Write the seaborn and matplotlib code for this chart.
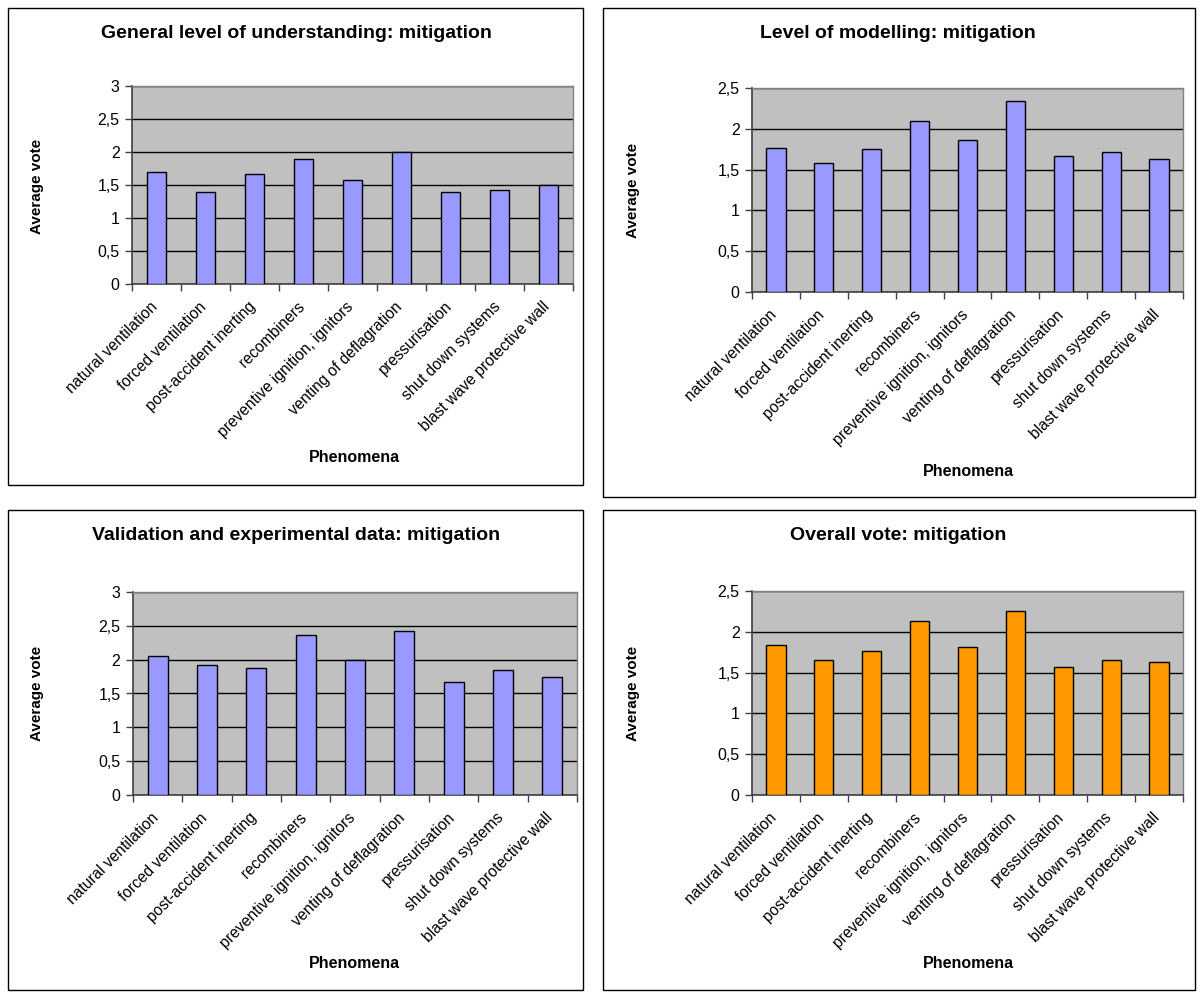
import numpy as np
import pandas as pd
import seaborn as sns
import matplotlib.pyplot as plt
import matplotlib.transforms as mtransforms
from matplotlib.patches import Rectangle
from matplotlib.ticker import FuncFormatter, MultipleLocator

# categories shared by all four charts
phenomena = ['natural ventilation', 'forced ventilation', 'post-accident inerting',
             'recombiners', 'preventive ignition, ignitors', 'venting of deflagration',
             'pressurisation', 'shut down systems', 'blast wave protective wall']

# average votes
understanding = [1.70, 1.40, 1.66, 1.90, 1.57, 2.00, 1.40, 1.42, 1.50]
modelling = [1.76, 1.58, 1.75, 2.10, 1.86, 2.34, 1.67, 1.71, 1.63]
validation = [2.06, 1.92, 1.87, 2.37, 2.00, 2.42, 1.67, 1.85, 1.74]
overall = [1.84, 1.65, 1.77, 2.13, 1.81, 2.25, 1.57, 1.66, 1.63]

titles = ['General level of understanding: mitigation', 'Level of modelling: mitigation',
          'Validation and experimental data: mitigation', 'Overall vote: mitigation']
ymaxes = [3, 2.5, 3, 2.5]
colors = ['#9999FF', '#9999FF', '#9999FF', '#FF9900']

sns.set_theme(style='white')
plt.rcParams['font.family'] = ['Liberation Sans', 'DejaVu Sans']
plt.rcParams['text.color'] = 'black'
plt.rcParams['xtick.color'] = 'black'
plt.rcParams['ytick.color'] = 'black'

W, H = 1203, 997
fig = plt.figure(figsize=(W / 100, H / 100), dpi=100)
fig.patch.set_facecolor('white')

def fx(x):
    return x / W

def fy(y):
    return 1 - y / H

# pixel layout: (left, top, right, bottom) for plot areas and frames
plot_boxes = [(132, 86, 573, 284), (752, 88, 1183, 292), (133, 592, 577, 795), (752, 591, 1183, 795)]
frames = [(8, 8, 583, 485), (603, 8, 1195, 497), (8, 510, 583, 990), (603, 510, 1195, 990)]
title_pos = [(296, 33), (898, 33), (296, 535), (898, 535)]
ylab_pos = [(37, 186), (633, 190), (37, 693), (633, 693)]
xlab_pos = [(354, 458), (968, 471), (354, 963), (968, 963)]

series = [understanding, modelling, validation, overall]
comma = FuncFormatter(lambda v, p: ('%g' % v).replace('.', ','))
label_shift = mtransforms.ScaledTranslation(-7 / 100, 0, fig.dpi_scale_trans)

for i in range(4):
    l, t, r, b = plot_boxes[i]
    ax = fig.add_axes([fx(l), fy(b), fx(r - l), (b - t) / H])
    df = pd.DataFrame({'Phenomena': phenomena, 'Average vote': series[i]})
    sns.barplot(data=df, x='Phenomena', y='Average vote', color=colors[i],
                saturation=1, width=0.4, edgecolor='black', linewidth=1, ax=ax, zorder=3)
    ax.set_facecolor('#C0C0C0')
    ax.set_xlim(-0.5, len(phenomena) - 0.5)
    ax.set_ylim(0, ymaxes[i])
    ax.yaxis.set_major_locator(MultipleLocator(0.5))
    ax.yaxis.set_major_formatter(comma)
    ax.yaxis.grid(True, color='black', linewidth=1, zorder=1)
    ax.xaxis.grid(False)
    ax.set_axisbelow(True)
    ax.set_xlabel('')
    ax.set_ylabel('')
    ax.set_xticks(np.arange(-0.5, len(phenomena)), minor=True)
    ax.tick_params(axis='x', which='major', length=0, pad=11)
    ax.tick_params(axis='x', which='minor', length=5, width=1, color='#404040', direction='out', bottom=True)
    ax.tick_params(axis='y', length=5, width=1, color='#404040', direction='out', left=True,
                   labelsize=11.5, pad=4, labelcolor='black')
    ax.set_xticks(range(len(phenomena)))
    ax.set_xticklabels(phenomena, rotation=45, ha='right', va='top', rotation_mode='anchor',
                       fontsize=11.2, color='black')
    for lab in ax.get_xticklabels():
        lab.set_transform(lab.get_transform() + label_shift)
    for s in ['left', 'bottom']:
        ax.spines[s].set_color('#404040')
        ax.spines[s].set_linewidth(1.2)
    for s in ['top', 'right']:
        ax.spines[s].set_color('#808080')
        ax.spines[s].set_linewidth(1)

    fl, ft, fr, fb = frames[i]
    fig.patches.append(Rectangle((fx(fl), fy(fb)), fx(fr - fl), (fb - ft) / H, fill=False,
                                 edgecolor='black', linewidth=1, transform=fig.transFigure))
    fig.text(fx(title_pos[i][0]), fy(title_pos[i][1]), titles[i], ha='center', va='center',
             fontsize=14, fontweight='bold', color='black')
    fig.text(fx(ylab_pos[i][0]), fy(ylab_pos[i][1]), 'Average vote', ha='center', va='center',
             rotation=90, fontsize=11, fontweight='bold', color='black')
    fig.text(fx(xlab_pos[i][0]), fy(xlab_pos[i][1]), 'Phenomena', ha='center', va='center',
             fontsize=11.5, fontweight='bold', color='black')

fig.savefig('out.png', dpi=100)
